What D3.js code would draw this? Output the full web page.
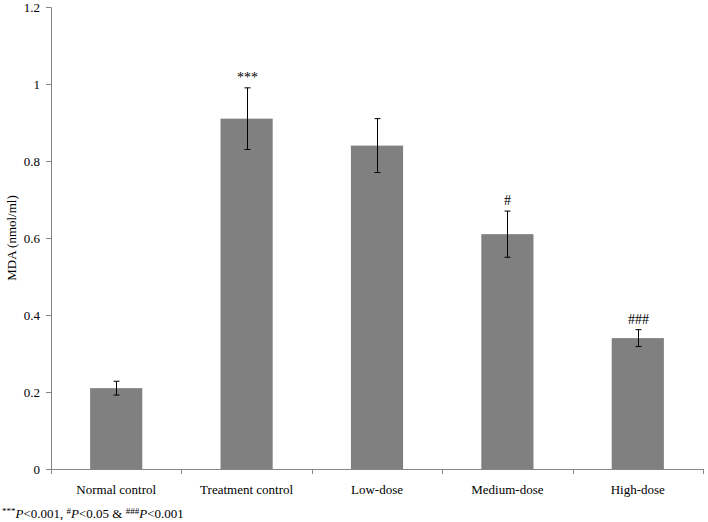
<!DOCTYPE html>
<html><head><meta charset="utf-8">
<script src="https://cdn.jsdelivr.net/npm/d3@7"></script>
<style>body{margin:0;background:#fff}svg{display:block}</style>
</head><body>
<svg id="c" width="708" height="522"></svg>
<script>
const categories = ["Normal control","Treatment control","Low-dose","Medium-dose","High-dose"];
const values = [0.21,0.91,0.84,0.61,0.34];
const errors = [0.018,0.08,0.07,0.06,0.022];
const marks = ["","***","","#","###"];
const yTicks = [0,0.2,0.4,0.6,0.8,1,1.2];
const yTickLabels = ["0","0.2","0.4","0.6","0.8","1","1.2"];

const svg = d3.select("#c");
const font = "'Liberation Serif','Times New Roman',serif";
const m = {l:51, r:5, t:7, b:53};
const W = 708, H = 522;
const x = d3.scaleBand().domain(categories).range([m.l, W-m.r]).paddingInner(0.6).paddingOuter(0.3);
const y = d3.scaleLinear().domain([0,1.2]).range([H-m.b, m.t]);
const axisColor = "#868686";

// y axis
const ya = svg.append("g").attr("transform",`translate(${m.l},0)`)
  .call(d3.axisLeft(y).tickValues(yTicks).tickFormat((d,i)=>yTickLabels[i]).tickSize(5).tickPadding(6));
ya.select(".domain").attr("stroke",axisColor);
ya.selectAll(".tick line").attr("stroke",axisColor);
ya.selectAll("text").attr("font-family",font).attr("font-size",13).attr("fill","#000");

// bars
svg.append("g").selectAll("rect").data(values).join("rect")
  .attr("x",(d,i)=>x(categories[i])).attr("width",x.bandwidth())
  .attr("y",d=>y(d)).attr("height",d=>y(0)-y(d)).attr("fill","#808080");

// error bars
const eg = svg.append("g").attr("stroke","#000").attr("stroke-width",1);
values.forEach((v,i)=>{
  const cx = Math.round(x(categories[i])+x.bandwidth()/2)+0.5;
  const t = y(v+errors[i]), b = y(v-errors[i]);
  eg.append("line").attr("x1",cx).attr("x2",cx).attr("y1",t).attr("y2",b);
  eg.append("line").attr("x1",cx-3).attr("x2",cx+3).attr("y1",t).attr("y2",t);
  eg.append("line").attr("x1",cx-3).attr("x2",cx+3).attr("y1",b).attr("y2",b);
  if (marks[i]) svg.append("text").attr("x",cx).attr("y",t-6).attr("text-anchor","middle")
    .attr("font-family",font).attr("font-size",14).text(marks[i]);
});

// x axis
const step = (W-m.r-m.l)/categories.length;
const xg = svg.append("g");
xg.append("line").attr("x1",m.l).attr("x2",W-m.r).attr("y1",y(0)+0.5).attr("y2",y(0)+0.5).attr("stroke",axisColor);
d3.range(categories.length+1).forEach(i=>{
  const px = Math.round(m.l+step*i)+0.5;
  xg.append("line").attr("x1",px).attr("x2",px).attr("y1",y(0)).attr("y2",y(0)+5).attr("stroke",axisColor);
});
xg.selectAll("text").data(categories).join("text")
  .attr("x",d=>x(d)+x.bandwidth()/2).attr("y",y(0)+25).attr("text-anchor","middle")
  .attr("font-family",font).attr("font-size",13).text(d=>d);

// y label
svg.append("text").attr("transform",`translate(16,${(y(0)+y(1.2))/2}) rotate(-90)`)
  .attr("text-anchor","middle").attr("font-family",font).attr("font-size",13).text("MDA (nmol/ml)");

// footnote
const fn = svg.append("text").attr("x",2).attr("y",518).attr("font-family",font).attr("font-size",13);
fn.append("tspan").attr("font-size",9).attr("dy",-4).text("***");
fn.append("tspan").attr("font-style","italic").attr("dy",4).text("P");
fn.append("tspan").text("<0.001, ");
fn.append("tspan").attr("font-size",9).attr("dy",-4).text("#");
fn.append("tspan").attr("font-style","italic").attr("dy",4).text("P");
fn.append("tspan").text("<0.05 & ");
fn.append("tspan").attr("font-size",9).attr("dy",-4).text("###");
fn.append("tspan").attr("font-style","italic").attr("dy",4).text("P");
fn.append("tspan").text("<0.001");
</script>
</body></html>
